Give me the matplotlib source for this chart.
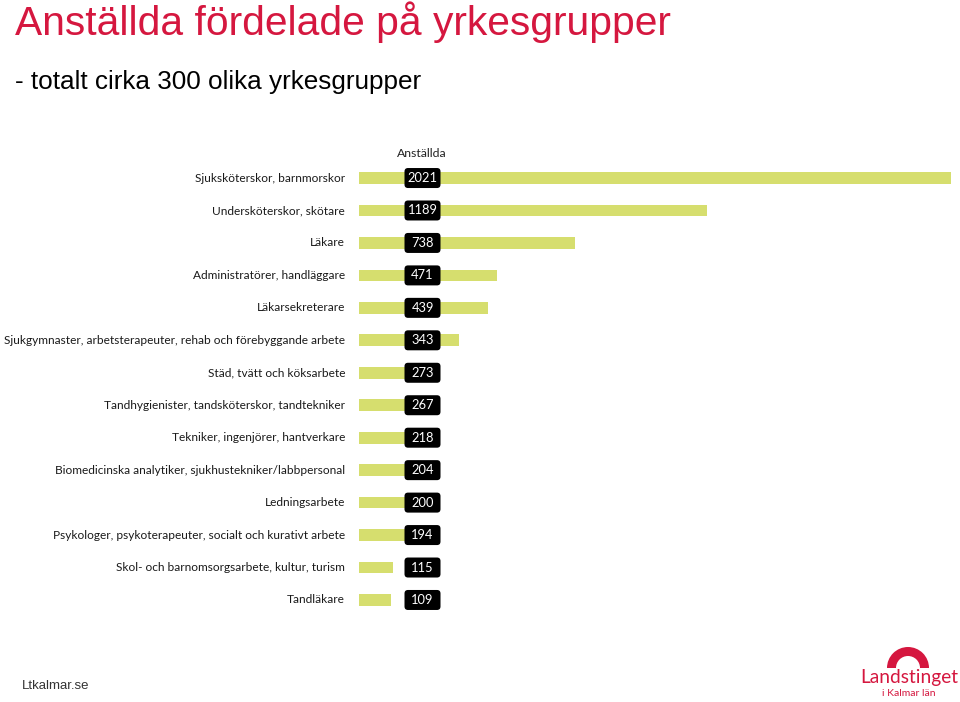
import matplotlib
matplotlib.use("Agg")
import matplotlib.pyplot as plt
from matplotlib.patches import Wedge, FancyBboxPatch
import matplotlib.transforms as mtransforms

categories = [
    "Sjuksköterskor, barnmorskor",
    "Undersköterskor, skötare",
    "Läkare",
    "Administratörer, handläggare",
    "Läkarsekreterare",
    "Sjukgymnaster, arbetsterapeuter, rehab och förebyggande arbete",
    "Städ, tvätt och köksarbete",
    "Tandhygienister, tandsköterskor, tandtekniker",
    "Tekniker, ingenjörer, hantverkare",
    "Biomedicinska analytiker, sjukhustekniker/labbpersonal",
    "Ledningsarbete",
    "Psykologer, psykoterapeuter, socialt och kurativt arbete",
    "Skol- och barnomsorgsarbete, kultur, turism",
    "Tandläkare",
]
employees = [2021, 1189, 738, 471, 439, 343, 273, 267, 218, 204, 200, 194, 115, 109]
series_name = "Anställda"
title = "Anställda fördelade på yrkesgrupper"
subtitle = "- totalt cirka 300 olika yrkesgrupper"
footer = "Ltkalmar.se"

W, H = 960, 702
fig = plt.figure(figsize=(W / 100, H / 100), dpi=100)
fig.patch.set_facecolor("white")

red = "#D5173F"
bar_color = "#D6DE6E"

ax_w_px = 951 - 359
row_px = (616.2 - 161.8) / len(categories)
ax = fig.add_axes([359 / W, 1 - 616.2 / H, ax_w_px / W, (616.2 - 161.8) / H])
ypos = list(range(len(categories)))
ax.barh(ypos, employees, height=0.36, color=bar_color, edgecolor="none")
ax.set_xlim(0, max(employees))
ax.set_ylim(len(categories) - 0.5, -0.5)
ax.axis("off")

trans = mtransforms.blended_transform_factory(ax.transAxes, ax.transData)
box_w = 36
box_h = 20
for y, cat, v in zip(ypos, categories, employees):
    ax.text(-14 / ax_w_px, y, cat, transform=trans, ha="right", va="center",
            fontsize=8.55, family="Lato", color="#1a1a1a")
    ax.add_patch(FancyBboxPatch(((404.5 - 359) / ax_w_px, y - box_h / 2 / row_px),
                                box_w / ax_w_px, box_h / row_px,
                                boxstyle="round,pad=0,rounding_size=%f" % (3.5 / ax_w_px),
                                mutation_aspect=(1 / row_px) / (1 / ax_w_px),
                                transform=trans, facecolor="black",
                                edgecolor="none", zorder=4, clip_on=False))
    ax.text((404.5 + box_w / 2 - 359) / ax_w_px, y, f"{v}", transform=trans,
            ha="center", va="center", fontsize=9.3, family="Lato",
            color="white", zorder=5)
ax.text(63 / ax_w_px, 1.0 + 8 / 454.4, series_name, transform=ax.transAxes,
        ha="center", va="center", fontsize=8.8, family="Lato", color="#222222")

fig.text(15 / W, 1 - 22 / H, title, ha="left", va="center", fontsize=29.3,
         family="Liberation Sans", color=red)
fig.text(15 / W, 1 - 82 / H, subtitle, ha="left", va="center", fontsize=18.8,
         family="Liberation Sans", color="black")
fig.text(22 / W, 1 - 686 / H, footer, ha="left", va="center", fontsize=9.5,
         family="Liberation Sans", color="#333333")

# logo
lax = fig.add_axes([880 / W, 1 - 670 / H, 56 / W, 28 / H])
lax.set_xlim(-28, 28)
lax.set_ylim(-2, 26)
lax.set_aspect("equal")
lax.axis("off")
lax.add_patch(Wedge((0, 0), 21, 0, 180, width=9, facecolor=red, edgecolor="none"))
fig.text(909 / W, 1 - 678 / H, "Landstinget", ha="center", va="center",
         fontsize=13.8, family="Lato", color=red)
fig.text(909 / W, 1 - 693 / H, "i Kalmar län", ha="center", va="center",
         fontsize=7.5, family="Lato", color=red)

fig.savefig("out.png", dpi=100, facecolor="white")
